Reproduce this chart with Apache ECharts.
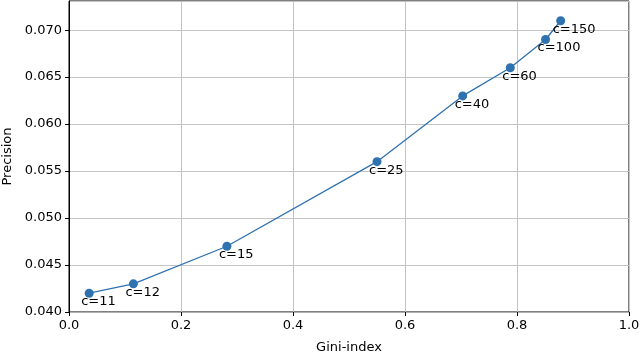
<!DOCTYPE html>
<html>
<head>
<meta charset="utf-8">
<script src="https://cdn.jsdelivr.net/npm/echarts@6/dist/echarts.min.js"></script>
<style>
  html, body { margin: 0; padding: 0; background: #fff; }
  #chart { width: 640px; height: 355px; }
</style>
</head>
<body>
<div id="chart"></div>
<script>
// 数据：Gini-index 与 Precision
const giniIndex = [0.036, 0.115, 0.282, 0.550, 0.703, 0.788, 0.851, 0.878]
const precision = [0.042, 0.043, 0.047, 0.056, 0.063, 0.066, 0.069, 0.071]
const cLabels = ['c=11', 'c=12', 'c=15', 'c=25', 'c=40', 'c=60', 'c=100', 'c=150']

const font = 'DejaVu Sans'
const gridColor = '#c4c4c4'
const chart = echarts.init(document.getElementById('chart'))

chart.setOption({
  animation: false,
  grid: {
    left: 69, right: 11, top: 1, bottom: 43,
    containLabel: false,
    outerBoundsMode: 'none',
    show: true, borderColor: '#000', borderWidth: 1
  },
  xAxis: {
    type: 'value',
    min: 0, max: 1, interval: 0.2,
    name: 'Gini-index',
    nameLocation: 'middle',
    nameGap: 29,
    nameTextStyle: { fontFamily: font, fontSize: 13, color: '#000' },
    axisLine: { show: true, lineStyle: { color: '#b0b0b0', width: 1 } },
    axisTick: { show: true, length: 4, lineStyle: { color: '#000' } },
    axisLabel: {
      fontFamily: font, fontSize: 13, color: '#000', margin: 7,
      formatter: v => v.toFixed(1)
    },
    splitLine: { show: true, lineStyle: { color: gridColor, width: 1 } }
  },
  yAxis: {
    type: 'value',
    min: 0.040, max: 0.0731, interval: 0.005,
    name: 'Precision',
    nameLocation: 'middle',
    nameGap: 55,
    nameTextStyle: { fontFamily: font, fontSize: 13, color: '#000' },
    axisLine: { show: true, lineStyle: { color: '#000', width: 1 } },
    axisTick: { show: true, length: 4, lineStyle: { color: '#000' } },
    axisLabel: {
      fontFamily: font, fontSize: 13, color: '#000', margin: 7,
      showMaxLabel: false,
      formatter: v => v.toFixed(3)
    },
    splitLine: { show: true, lineStyle: { color: gridColor, width: 1 } }
  },
  series: [
    {
      type: 'line',
      data: giniIndex.map((g, i) => [g, precision[i], cLabels[i]]),
      symbol: 'circle',
      symbolSize: 9,
      itemStyle: { color: '#2f72b0' },
      lineStyle: { color: '#2f72b0', width: 1.3 },
      label: {
        show: true,
        position: [-3.5, 6.5],
        align: 'left',
        verticalAlign: 'top',
        fontFamily: font,
        fontSize: 13,
        color: '#000',
        formatter: p => p.data[2]
      }
    }
  ]
})
</script>
</body>
</html>
